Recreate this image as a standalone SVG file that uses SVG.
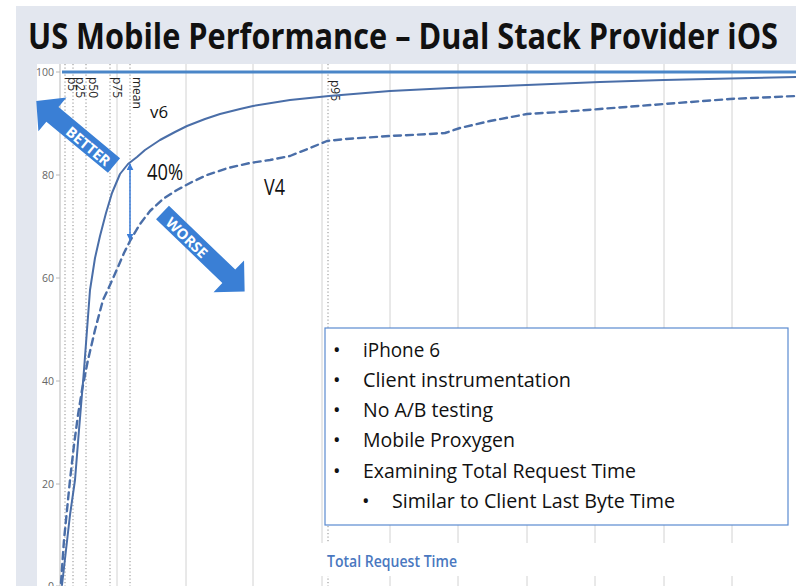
<svg xmlns="http://www.w3.org/2000/svg" width="796" height="586" viewBox="0 0 796 586">
  <defs>
    <style>
      .title { font-family: "Open Sans", "Liberation Sans", sans-serif; font-weight: 700; font-size: 36px; fill: #111; }
      .tick { font-family: "Open Sans", "Liberation Sans", sans-serif; font-size: 10.5px; fill: #666; text-anchor: end; }
      .pct { font-family: "Open Sans", "Liberation Sans", sans-serif; font-size: 12px; font-weight: 500; fill: #222; }
      .grid { stroke: #d2d2d2; stroke-width: 1; }
      .pline { stroke: #8a8a8a; stroke-width: 1; stroke-dasharray: 1.2 2.3; }
      .series { fill: none; stroke: #4a6ea8; stroke-linejoin: round; stroke-linecap: round; }
      .lbl { font-family: "Open Sans", "Liberation Sans", sans-serif; font-weight: 500; fill: #111; }
      .big-arrow { fill: #3a7fd5; }
      .arrow-text { font-family: "Open Sans", "Liberation Sans", sans-serif; font-weight: 700; font-size: 14.5px; fill: #fff; text-anchor: middle; dominant-baseline: central; }
      .bullet { font-family: "Open Sans", "Liberation Sans", sans-serif; font-weight: 500; font-size: 20px; fill: #111; }
    </style>
    <marker id="tip" viewBox="0 0 10 10" refX="9" refY="5" markerWidth="7" markerHeight="7" orient="auto-start-reverse" markerUnits="userSpaceOnUse">
      <path d="M0,0 L10,5 L0,10 z" fill="#3b7dd8"/>
    </marker>
  </defs>

  <!-- slide background -->
  <rect x="0" y="0" width="796" height="586" fill="#ffffff"/>
  <rect x="16" y="6" width="780" height="580" fill="#e3e7ef"/>
  <rect x="37" y="64" width="759" height="522" fill="#ffffff"/>

  <g id="title">
    <text class="title" x="28" y="49" textLength="750" lengthAdjust="spacingAndGlyphs">US Mobile Performance – Dual Stack Provider iOS</text>
  </g>

  <!-- plot frame: gridlines, axis, ticks -->
  <g id="grid">
    <line class="grid" x1="117" y1="64" x2="117" y2="586"/>
    <line class="grid" x1="186" y1="64" x2="186" y2="586"/>
    <line class="grid" x1="253" y1="64" x2="253" y2="586"/>
    <line class="grid" x1="322" y1="64" x2="322" y2="586"/>
    <line class="grid" x1="390" y1="64" x2="390" y2="586"/>
    <line class="grid" x1="458" y1="64" x2="458" y2="586"/>
    <line class="grid" x1="527" y1="64" x2="527" y2="586"/>
    <line class="grid" x1="595" y1="64" x2="595" y2="586"/>
    <line class="grid" x1="664" y1="64" x2="664" y2="586"/>
    <line class="grid" x1="732" y1="64" x2="732" y2="586"/>
  </g>

  <g id="y-axis">
    <line x1="60" y1="64" x2="60" y2="586" stroke="#b8b8b8" stroke-width="1"/>
    <g stroke="#b8b8b8" stroke-width="1">
      <line x1="56" y1="72" x2="60" y2="72"/>
      <line x1="56" y1="175" x2="60" y2="175"/>
      <line x1="56" y1="278" x2="60" y2="278"/>
      <line x1="56" y1="381" x2="60" y2="381"/>
      <line x1="56" y1="484" x2="60" y2="484"/>
      <line x1="56" y1="586" x2="60" y2="586"/>
    </g>
    <text class="tick" x="54" y="75.5">100</text>
    <text class="tick" x="54" y="178.5">80</text>
    <text class="tick" x="54" y="281.5">60</text>
    <text class="tick" x="54" y="384.5">40</text>
    <text class="tick" x="54" y="487.5">20</text>
    <text class="tick" x="54" y="589.5">0</text>
  </g>

  <!-- percentile markers -->
  <g id="percentiles">
    <line class="pline" x1="65" y1="64" x2="65" y2="586"/>
    <line class="pline" x1="73" y1="64" x2="73" y2="586"/>
    <line class="pline" x1="86" y1="64" x2="86" y2="586"/>
    <line class="pline" x1="110" y1="64" x2="110" y2="586"/>
    <line class="pline" x1="130" y1="64" x2="130" y2="586"/>
    <line class="pline" x1="328" y1="64" x2="328" y2="586"/>
    <text class="pct" transform="translate(67.5,77) rotate(90)">p5</text>
    <text class="pct" transform="translate(76,77) rotate(90)">p25</text>
    <text class="pct" transform="translate(89,77) rotate(90)">p50</text>
    <text class="pct" transform="translate(112.5,77) rotate(90)">p75</text>
    <text class="pct" transform="translate(132.5,77) rotate(90)">mean</text>
    <text class="pct" transform="translate(330.5,80) rotate(90)">p95</text>
  </g>

  <!-- axis title band -->
  <g id="x-axis-title">
    <rect x="316" y="543" width="480" height="33" fill="#ffffff"/>
    <text x="327" y="567" font-family="Open Sans, Liberation Sans, sans-serif" font-weight="600" font-size="17" fill="#4a78c0" textLength="130" lengthAdjust="spacingAndGlyphs">Total Request Time</text>
  </g>

  <!-- 100% reference line -->
  <line x1="62" y1="72" x2="796" y2="72" stroke="#4a86c8" stroke-width="3"/>

  <g id="series">
    <polyline id="v6-curve" class="series" stroke-width="2" points="62,585 66,550 70,515 75,480 79,430 84,370 90,290 95,258 100,236 106,213 112,193 120,174 128,164 137,157 145,150 160,140 175,132 187,126 205,119 220,114 240,109 253,106 290,100 329,96 390,91 450,88 527,85 600,82 664,80 730,78.5 796,77"/>
    <polyline id="v4-curve" class="series" stroke-width="2.4" stroke-dasharray="7 5" points="61,583 64,540 67,510 70,480 74,445 78,415 82,390 88,360 95,330 103,300 110,285 118,267 124,253 130,241 140,224 150,211 163,199 177,190 192,182 207,175 228,168 250,163 270,160 290,156 310,148 327,141 345,139 390,136 430,134 445,133 460,128 490,121 527,114 560,112 600,109 664,104 730,99 796,96"/>
  </g>

  <g id="series-labels">
    <text class="lbl" x="150" y="118" font-size="16" textLength="18" lengthAdjust="spacingAndGlyphs">v6</text>
    <text class="lbl" x="264" y="195" font-size="21" textLength="21" lengthAdjust="spacingAndGlyphs">V4</text>
  </g>

  <!-- gap between the two series at the mean -->
  <g id="connectors">
    <line x1="130" y1="164" x2="130" y2="240" stroke="#3b7dd8" stroke-width="1.5" marker-start="url(#tip)" marker-end="url(#tip)"/>
  </g>
  <g id="gap-label">
    <text class="lbl" x="147" y="180" font-size="21" textLength="36" lengthAdjust="spacingAndGlyphs">40%</text>
  </g>

  <g id="better">
    <polygon class="big-arrow" transform="translate(114,165.5) rotate(219.7)" points="0,-9.5 80,-9.5 80,-22 101,0 80,22 80,9.5 0,9.5"/>
    <text class="arrow-text" transform="translate(88.5,146) rotate(39.7)">BETTER</text>
  </g>

  <g id="worse">
    <polygon class="big-arrow" transform="translate(162.5,212.5) rotate(43.9)" points="0,-9.3 92,-9.3 92,-22 114,0 92,22 92,9.3 0,9.3"/>
    <text class="arrow-text" transform="translate(187,237.5) rotate(43.9)">WORSE</text>
  </g>

  <g id="notes">
    <rect x="325" y="328" width="463" height="197" fill="#ffffff" stroke="#5b8bd0" stroke-width="1.2"/>
    <g class="bullet">
      <text x="333" y="357">•</text>
      <text x="363" y="357" textLength="77" lengthAdjust="spacingAndGlyphs">iPhone 6</text>
      <text x="333" y="387">•</text>
      <text x="363" y="387" textLength="208" lengthAdjust="spacingAndGlyphs">Client instrumentation</text>
      <text x="333" y="417">•</text>
      <text x="363" y="417" textLength="130" lengthAdjust="spacingAndGlyphs">No A/B testing</text>
      <text x="333" y="447">•</text>
      <text x="363" y="447" textLength="152" lengthAdjust="spacingAndGlyphs">Mobile Proxygen</text>
      <text x="333" y="478">•</text>
      <text x="363" y="478" textLength="273" lengthAdjust="spacingAndGlyphs">Examining Total Request Time</text>
      <text x="362" y="508">•</text>
      <text x="392" y="508" textLength="283" lengthAdjust="spacingAndGlyphs">Similar to Client Last Byte Time</text>
    </g>
  </g>
</svg>
